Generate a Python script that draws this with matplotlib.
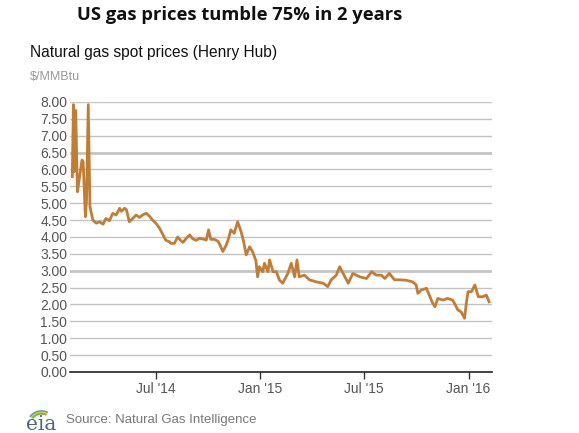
import numpy as np
import pandas as pd
import matplotlib
matplotlib.use("Agg")
from matplotlib import pyplot as plt
from matplotlib.patches import Arc

# Henry Hub spot price, $/MMBtu
dates = [
    "2014-02-05", "2014-02-07", "2014-02-08", "2014-02-11", "2014-02-14", "2014-02-17",
    "2014-02-22", "2014-02-24", "2014-02-28", "2014-03-02", "2014-03-05", "2014-03-08",
    "2014-03-13", "2014-03-19", "2014-03-25", "2014-03-31", "2014-04-05", "2014-04-11",
    "2014-04-17", "2014-04-23", "2014-04-29", "2014-05-02", "2014-05-08", "2014-05-11",
    "2014-05-16", "2014-05-22", "2014-05-28", "2014-06-03", "2014-06-09", "2014-06-15",
    "2014-06-20", "2014-06-26", "2014-07-02", "2014-07-08", "2014-07-13", "2014-07-19",
    "2014-07-25", "2014-07-28", "2014-08-03", "2014-08-09", "2014-08-14", "2014-08-18",
    "2014-08-24", "2014-08-30", "2014-09-04", "2014-09-10", "2014-09-16", "2014-09-22",
    "2014-09-28", "2014-10-02", "2014-10-06", "2014-10-12", "2014-10-18", "2014-10-21",
    "2014-10-27", "2014-11-02", "2014-11-06", "2014-11-10", "2014-11-16", "2014-11-22",
    "2014-11-28", "2014-12-02", "2014-12-07", "2014-12-13", "2014-12-18", "2014-12-24",
    "2014-12-27", "2014-12-30", "2015-01-05", "2015-01-08", "2015-01-14", "2015-01-17",
    "2015-01-23", "2015-01-29", "2015-02-03", "2015-02-09", "2015-02-18", "2015-02-24",
    "2015-03-02", "2015-03-06", "2015-03-10", "2015-03-19", "2015-03-28", "2015-04-09",
    "2015-04-21", "2015-04-29", "2015-05-05", "2015-05-14", "2015-05-20", "2015-05-26",
    "2015-06-04", "2015-06-12", "2015-06-24", "2015-07-06", "2015-07-15", "2015-07-23",
    "2015-08-01", "2015-08-07", "2015-08-15", "2015-08-24", "2015-09-02", "2015-09-13",
    "2015-09-25", "2015-10-01", "2015-10-04", "2015-10-10", "2015-10-19", "2015-10-24",
    "2015-10-30", "2015-11-03", "2015-11-08", "2015-11-17", "2015-11-25", "2015-12-04",
    "2015-12-09", "2015-12-13", "2015-12-19", "2015-12-25", "2015-12-28", "2015-12-31",
    "2016-01-06", "2016-01-12", "2016-01-18", "2016-01-26", "2016-02-01", "2016-02-06",
]
prices = [
    5.79, 7.92, 5.93, 7.75, 5.34, 5.69,
    6.28, 6.24, 4.60, 5.10, 7.92, 4.90,
    4.50, 4.41, 4.45, 4.38, 4.55, 4.48,
    4.70, 4.65, 4.85, 4.76, 4.85, 4.80,
    4.45, 4.55, 4.65, 4.58, 4.66, 4.70,
    4.62, 4.50, 4.40, 4.26, 4.10, 3.90,
    3.86, 3.81, 3.81, 4.00, 3.90, 3.84,
    3.96, 4.06, 3.95, 3.90, 3.96, 3.94,
    3.91, 4.21, 3.93, 3.93, 3.88, 3.80,
    3.57, 3.76, 3.95, 4.21, 4.11, 4.45,
    4.16, 3.90, 3.47, 3.71, 3.57, 3.30,
    2.82, 3.12, 2.97, 3.22, 2.97, 3.32,
    2.97, 2.97, 2.73, 2.63, 2.92, 3.22,
    2.82, 3.32, 2.82, 2.87, 2.73, 2.67,
    2.63, 2.53, 2.73, 2.87, 3.12, 2.92,
    2.63, 2.92, 2.82, 2.77, 2.97, 2.87,
    2.87, 2.77, 2.92, 2.73, 2.73, 2.72,
    2.67, 2.58, 2.33, 2.43, 2.48, 2.28,
    2.04, 1.93, 2.18, 2.13, 2.18, 2.13,
    1.98, 1.84, 1.78, 1.59, 2.04, 2.38,
    2.38, 2.58, 2.23, 2.23, 2.28, 2.08,
]
y_ticks = np.arange(0, 8.01, 0.5)
x_tick_dates = ["2014-07-01", "2015-01-01", "2015-07-01", "2016-01-01"]
x_tick_labels = ["Jul '14", "Jan '15", "Jul '15", "Jan '16"]

LINE = "#c27d35"
GRID = "#c4c4c4"
TXT = "#555555"

fig = plt.figure(figsize=(5.79, 4.33), dpi=100)
ax = fig.add_axes([0.1209, 0.1409, 0.7288, 0.6236])

d = pd.to_datetime(dates)
ax.plot(d, prices, color=LINE, lw=2, solid_joinstyle="round", zorder=3)

ax.set_ylim(0, 8)
ax.set_xlim(pd.Timestamp("2014-02-01"), pd.Timestamp("2016-02-11"))
ax.set_yticks(y_ticks)
ax.set_yticklabels(["%.2f" % v for v in y_ticks])
for v in y_ticks[1:]:
    w = 2 if v in (3.0, 6.5) else 1
    ax.axhline(v, color=GRID, lw=w, zorder=1)

ax.set_xticks(pd.to_datetime(x_tick_dates))
ax.set_xticklabels(x_tick_labels)
ax.tick_params(axis="y", length=0, pad=2, labelsize=10, labelcolor=TXT)
ax.tick_params(axis="x", length=5, width=1, color="#333333", pad=2,
               labelsize=10, labelcolor=TXT)
for lab in ax.get_xticklabels() + ax.get_yticklabels():
    lab.set_family("Liberation Sans")

for s in ["top", "right", "left"]:
    ax.spines[s].set_visible(False)
ax.spines["bottom"].set_color("#222222")
ax.spines["bottom"].set_linewidth(1.2)

fig.text(240 / 579, 1 - 15 / 433, "US gas prices tumble 75% in 2 years",
         ha="center", va="center", fontsize=13.2, fontweight="bold",
         family="Open Sans", color="#111111")
fig.text(30 / 579, 1 - 52 / 433, "Natural gas spot prices (Henry Hub)",
         ha="left", va="center", fontsize=11.2, family="Liberation Sans",
         color="#111111")
fig.text(30 / 579, 1 - 77 / 433, "$/MMBtu", ha="left", va="center",
         fontsize=9, family="Liberation Sans", color="#999999")
fig.text(66 / 579, 1 - 420 / 433, "Source: Natural Gas Intelligence",
         ha="left", va="center", fontsize=9.5, family="Liberation Sans",
         color="#777777")

# eia logo
fig.text(26 / 579, 1 - 424 / 433, "eia", ha="left", va="center", fontsize=14.5,
         family="DejaVu Serif", color="#4d6680")
lax = fig.add_axes([25 / 579, 1 - 424 / 433, 30 / 579, 16 / 433])
lax.set_xlim(0, 2)
lax.set_ylim(0, 1)
lax.axis("off")
for r, c in [(1.0, "#3c9bd6"), (0.9, "#f2c12e"), (0.8, "#7cbf42")]:
    lax.add_patch(Arc((1.1, 0.0), r * 1.8, r * 1.6, theta1=60, theta2=150,
                      color=c, lw=1.5))

fig.savefig("out.png", dpi=100)
